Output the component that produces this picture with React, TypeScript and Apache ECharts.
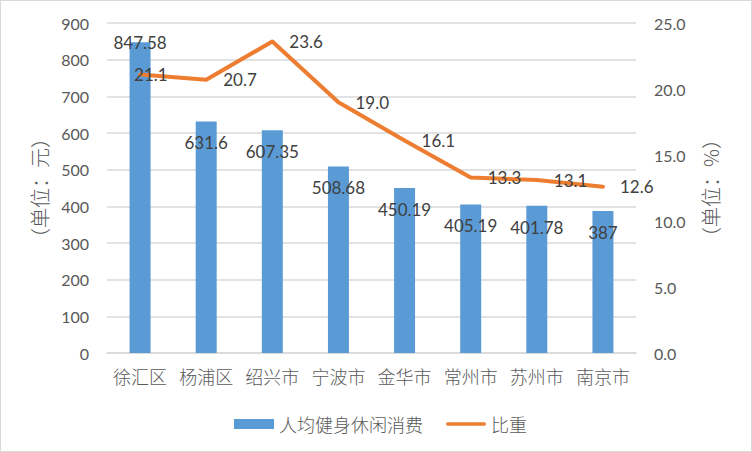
import React, { useEffect, useRef } from "react";
import * as echarts from "echarts";

const categories = ["徐汇区", "杨浦区", "绍兴市", "宁波市", "金华市", "常州市", "苏州市", "南京市"];
const spending = [847.58, 631.6, 607.35, 508.68, 450.19, 405.19, 401.78, 387];
const share = [21.1, 20.7, 23.6, 19.0, 16.1, 13.3, 13.1, 12.6];
const barName = "人均健身休闲消费";
const lineName = "比重";
const leftAxisName = "（单位：元）";
const rightAxisName = "（单位：%）";

const NUM_FONT = "Lato, 'Liberation Sans', sans-serif";
const CJK_FONT = "'Noto Sans CJK SC', sans-serif";

export default function App() {
  const ref = useRef<HTMLDivElement>(null);

  useEffect(() => {
    document.body.style.margin = "0";
    if (!ref.current) return;
    const chart = echarts.init(ref.current, undefined, { renderer: "svg" });

    const barData = spending.map((v, i) => ({
      value: v,
      label:
        i === 0
          ? { position: "insideTop", distance: -8 }
          : { position: "insideTop", distance: 13 },
    }));
    const lineData = share.map((v, i) => ({
      value: v,
      label: i === 0 ? { position: "right", distance: -6 } : { position: "right", distance: 17 },
    }));

    chart.setOption({
      animation: false,
      backgroundColor: "#ffffff",
      grid: { left: 107, right: 116, top: 23, bottom: 99 },
      legend: {
        left: 229,
        top: 410,
        itemGap: 23,
        itemWidth: 40,
        itemHeight: 10,
        textStyle: { fontFamily: CJK_FONT, fontSize: 18, color: "#595959", fontWeight: 300 },
        data: [
          { name: barName, icon: "rect" },
          {
            name: lineName,
            icon: "path://M2,0 H43 A2,2 0 0 1 43,4 H2 A2,2 0 0 1 2,0 Z",
            itemStyle: { color: "#ed7d31" },
          },
        ],
      },
      xAxis: {
        type: "category",
        data: categories,
        boundaryGap: true,
        axisLine: { show: true, lineStyle: { color: "#d9d9d9", width: 1.5 } },
        axisTick: { show: false },
        axisLabel: {
          interval: 0,
          margin: 14,
          fontFamily: CJK_FONT,
          fontSize: 18,
          color: "#595959",
          fontWeight: 300,
        },
      },
      yAxis: [
        {
          type: "value",
          min: 0,
          max: 900,
          interval: 100,
          name: leftAxisName,
          nameLocation: "middle",
          nameRotate: 90,
          nameGap: 58,
          nameTextStyle: { fontFamily: CJK_FONT, fontSize: 20, color: "#595959", fontWeight: 300 },
          axisLine: { show: false },
          axisTick: { show: false },
          axisLabel: { margin: 18, fontFamily: NUM_FONT, fontSize: 16, color: "#595959" },
          splitLine: { lineStyle: { color: "#d9d9d9", width: 1.5 } },
        },
        {
          type: "value",
          min: 0,
          max: 25,
          interval: 5,
          position: "right",
          name: rightAxisName,
          nameLocation: "middle",
          nameRotate: 90,
          nameGap: 64,
          nameTextStyle: { fontFamily: CJK_FONT, fontSize: 20, color: "#595959", fontWeight: 300 },
          axisLine: { show: false },
          axisTick: { show: false },
          axisLabel: {
            margin: 18,
            fontFamily: NUM_FONT,
            fontSize: 16,
            color: "#595959",
            formatter: (v: number) => v.toFixed(1),
          },
          splitLine: { show: false },
        },
      ],
      series: [
        {
          name: barName,
          type: "bar",
          data: barData,
          barWidth: 21,
          itemStyle: { color: "#5b9bd5" },
          label: {
            show: true,
            fontFamily: NUM_FONT,
            fontSize: 17,
            color: "#404040",
          },
        },
        {
          name: lineName,
          type: "line",
          yAxisIndex: 1,
          data: lineData,
          symbol: "circle",
          symbolSize: 0,
          showSymbol: true,
          lineStyle: { color: "#ed7d31", width: 4, cap: "round", join: "round" },
          itemStyle: { color: "#ed7d31" },
          label: {
            show: true,
            fontFamily: NUM_FONT,
            fontSize: 17,
            color: "#404040",
            formatter: (p: any) => Number(p.value).toFixed(1),
          },
        },
      ],
    });

    return () => chart.dispose();
  }, []);

  return (
    <div style={{ position: "relative", width: 752, height: 452 }}>
      <div ref={ref} style={{ position: "absolute", left: 0, top: 0, width: 752, height: 452 }} />
      <div
        style={{
          position: "absolute",
          left: 0,
          top: 0,
          width: 752,
          height: 452,
          boxSizing: "border-box",
          border: "1.5px solid #d9d9d9",
          pointerEvents: "none",
        }}
      />
    </div>
  );
}
